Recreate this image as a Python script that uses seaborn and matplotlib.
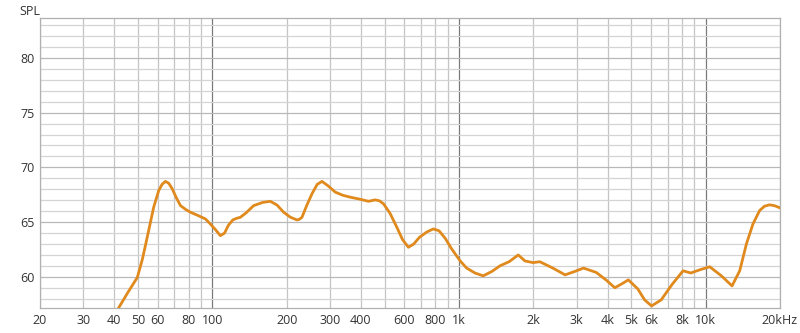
import numpy as np
import pandas as pd
import matplotlib
matplotlib.use("Agg")
import matplotlib.pyplot as plt
import seaborn as sns

# frequency (Hz) and SPL (dB)
freq = [36, 41.7, 45.5, 49.6, 52, 54.4, 57.8, 60.6, 62.5, 64.5, 66.5, 68.7, 71.5, 74.2, 78,
        81.5, 87.5, 93.7, 98.1, 103, 107.7, 112, 116, 121, 125.5, 129.8, 137, 147, 160,
        171.7, 183, 194.4, 207, 220, 225, 230.7, 241, 253.3, 266, 278, 295, 314.8, 338,
        361.6, 395, 429.5, 456.8, 475, 493.9, 525, 559.6, 590, 623, 655, 690, 740, 787,
        830, 880, 930, 1009, 1073, 1160, 1253, 1360, 1464, 1600, 1737, 1850, 1995, 2125,
        2400, 2690, 2950, 3196, 3600, 3950, 4280, 4600, 4856, 5300, 5650, 6030, 6600,
        7300, 8092, 8700, 9456, 10378, 11575, 12780, 13730, 14615, 15540, 16540, 17300,
        18160, 19000, 20000]
spl = [54.0, 57.18, 58.6, 59.94, 61.6, 63.6, 66.36, 67.89, 68.45, 68.72, 68.55, 68.05, 67.2,
       66.51, 66.15, 65.9, 65.6, 65.29, 64.83, 64.3, 63.76, 64.0, 64.7, 65.2, 65.35, 65.44,
       65.85, 66.51, 66.8, 66.9, 66.55, 65.9, 65.45, 65.2, 65.25, 65.44, 66.5, 67.59, 68.45,
       68.72, 68.3, 67.74, 67.45, 67.28, 67.1, 66.9, 67.03, 66.95, 66.67, 65.8, 64.52, 63.4,
       62.7, 63.0, 63.6, 64.1, 64.38, 64.2, 63.5, 62.6, 61.47, 60.8, 60.35, 60.09, 60.5,
       61.0, 61.4, 62.0, 61.45, 61.3, 61.38, 60.8, 60.18, 60.5, 60.8, 60.4, 59.7, 59.0,
       59.4, 59.72, 58.9, 57.9, 57.34, 57.9, 59.3, 60.55, 60.35, 60.64, 60.92, 60.09, 59.17,
       60.55, 63.0, 64.83, 66.06, 66.45, 66.58, 66.5, 66.3]

df = pd.DataFrame({"freq": freq, "spl": spl})

xticks = [20, 30, 40, 50, 60, 80, 100, 200, 300, 400, 600, 800, 1000, 2000, 3000,
          4000, 5000, 6000, 8000, 10000, 20000]
xticklabels = ["20", "30", "40", "50", "60", "80", "100", "200", "300", "400", "600",
               "800", "1k", "2k", "3k", "4k", "5k", "6k", "8k", "10k", "20kHz"]
yticks = [60, 65, 70, 75, 80]

sns.set_theme(style="white")
plt.rcParams['font.family'] = ['Open Sans', 'DejaVu Sans']

fig = plt.figure(figsize=(8, 3.33), dpi=100)
ax = fig.add_axes([0.05, 0.075, 0.925, 0.871])

ax.set_xscale("log")
ax.set_xlim(20, 20000)
ax.set_ylim(57.15, 83.65)

# grid lines
minor_x = [m * 10 ** e for e in range(1, 5) for m in range(1, 10)]
minor_x = [v for v in minor_x if 20 <= v <= 20000 and v not in (100, 1000, 10000)]
for v in minor_x:
    ax.axvline(v, color="#c4c4c4", lw=0.9, zorder=0)
for v in (100, 1000, 10000):
    ax.axvline(v, color="#7a7a7a", lw=0.9, zorder=0)
for v in range(58, 84):
    ax.axhline(v, color="#d4d4d4" if v % 5 else "#b8b8b8", lw=0.9, zorder=0)

sns.lineplot(data=df, x="freq", y="spl", ax=ax, color="#E08A1E", lw=2.0, zorder=3,
             solid_joinstyle="round", solid_capstyle="round")

ax.set_xticks(xticks)
ax.set_xticklabels(xticklabels)
ax.xaxis.set_minor_locator(matplotlib.ticker.NullLocator())
ax.set_yticks(yticks)
ax.set_yticklabels([str(v) for v in yticks])
ax.tick_params(axis="both", length=0, labelsize=9, colors="#333333", pad=4)
ax.set_xlabel("")
ax.set_ylabel("")
for s in ax.spines.values():
    s.set_color("#b0b0b0")
    s.set_linewidth(0.9)

fig.text(0.024, 0.985, "SPL", fontsize=9, color="#333333", va="top", ha="left")

fig.savefig("out.png", dpi=100)
